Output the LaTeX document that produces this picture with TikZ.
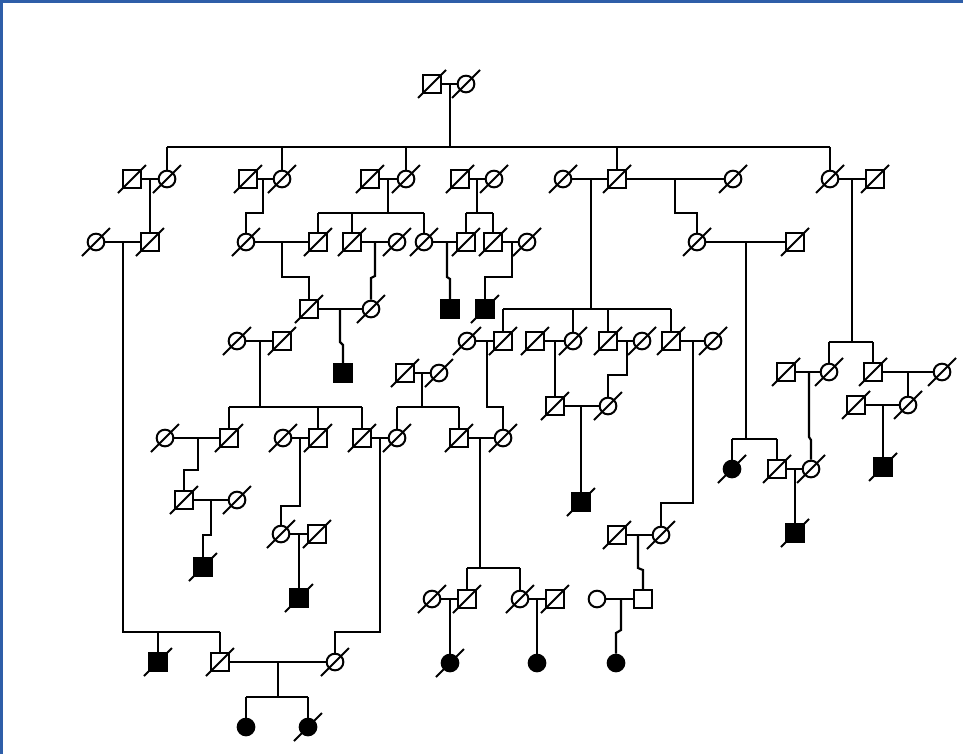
\documentclass[tikz,border=0pt]{standalone}
\usetikzlibrary{calc}
\definecolor{frameblue}{RGB}{46,94,168}
\begin{document}
\begin{tikzpicture}[x=0.75pt,y=-0.75pt,
  every path/.style={line width=1.6pt},
  male/.style={draw, rectangle, minimum size=13pt, inner sep=0pt, line width=1.5pt, fill=white},
  fem/.style={draw, circle, minimum size=12.5pt, inner sep=0pt, line width=1.5pt, fill=white},
  aff/.style={fill=black},
  slashln/.style={line width=1.5pt}]
\useasboundingbox (0,0) rectangle (963,754);
\fill[frameblue] (0,0) rectangle (963,3);
\fill[frameblue] (0,0) rectangle (3,754);
% ---------- individuals ----------
% Gen I
\node[male] (I1) at (432,84) {};
\node[fem]  (I2) at (466,84) {};
% Gen II
\node[male] (a1) at (132,179) {};
\node[fem]  (a2) at (167,179) {};
\node[male] (b1) at (248,179) {};
\node[fem]  (b2) at (282,179) {};
\node[male] (c1) at (370,179) {};
\node[fem]  (c2) at (406,179) {};
\node[male] (d1) at (460,179) {};
\node[fem]  (d2) at (494,179) {};
\node[fem]  (e1) at (563,179) {};
\node[male] (e2) at (617,179) {};
\node[fem]  (e3) at (733,179) {};
\node[fem]  (g1) at (830,179) {};
\node[male] (g2) at (875,179) {};
% Gen III
\node[fem]  (h1) at (96,242) {};
\node[male] (h2) at (150,242) {};
\node[fem]  (i1) at (246,242) {};
\node[male] (i2) at (318,242) {};
\node[male] (i3) at (352,242) {};
\node[fem]  (i4) at (397,242) {};
\node[fem]  (i5) at (424,242) {};
\node[male] (i6) at (466,242) {};
\node[male] (i7) at (493,242) {};
\node[fem]  (i8) at (527,242) {};
\node[fem]  (j1) at (697,242) {};
\node[male] (j2) at (795,242) {};
% row y=309
\node[male] (k1) at (309,309) {};
\node[fem]  (k2) at (371,309) {};
\node[male,aff] (k3) at (450,309) {};
\node[male,aff] (k4) at (485,309) {};
% row y=341
\node[fem]  (l1) at (237,341) {};
\node[male] (l2) at (282,341) {};
\node[fem]  (n1) at (467,341) {};
\node[male] (n2) at (503,341) {};
\node[male] (n3) at (535,341) {};
\node[fem]  (n4) at (573,341) {};
\node[male] (n5) at (608,341) {};
\node[fem]  (n6) at (642,341) {};
\node[male] (n7) at (671,341) {};
\node[fem]  (n8) at (713,341) {};
% row y=373
\node[male,aff] (m1) at (343,373) {};
\node[male] (o1) at (405,373) {};
\node[fem]  (o2) at (439,373) {};
\node[male] (p1) at (786,372) {};
\node[fem]  (p2) at (829,372) {};
\node[male] (p3) at (873,372) {};
\node[fem]  (p4) at (942,372) {};
% row y=405
\node[male] (q1) at (856,405) {};
\node[fem]  (q2) at (908,405) {};
\node[male] (s1) at (555,406) {};
\node[fem]  (s2) at (608,406) {};
% row y=438
\node[fem]  (u1) at (165,438) {};
\node[male] (u2) at (229,438) {};
\node[fem]  (u3) at (283,438) {};
\node[male] (u4) at (318,438) {};
\node[male] (u5) at (362,438) {};
\node[fem]  (u6) at (397,438) {};
\node[male] (u7) at (459,438) {};
\node[fem]  (u8) at (503,438) {};
% row y=469
\node[fem,aff]  (v1) at (732,469) {};
\node[male] (v2) at (777,469) {};
\node[fem]  (v3) at (811,469) {};
\node[male,aff] (r1) at (883,467) {};
% row y=500
\node[male] (x1) at (184,500) {};
\node[fem]  (x2) at (237,500) {};
\node[male,aff] (t1) at (581,502) {};
% row y=534
\node[fem]  (z1) at (281,534) {};
\node[male] (z2) at (317,534) {};
\node[male] (ab1) at (617,535) {};
\node[fem]  (ab2) at (661,535) {};
\node[male,aff] (w1) at (795,533) {};
% row y=567
\node[male,aff] (y1) at (203,567) {};
% row y=599
\node[male,aff] (aa) at (299,598) {};
\node[fem]  (ad1) at (432,599) {};
\node[male] (ad2) at (467,599) {};
\node[fem]  (ad3) at (520,599) {};
\node[male] (ad4) at (555,599) {};
\node[fem]  (ac1) at (597,599) {};
\node[male] (ac2) at (643,599) {};
% row y=663
\node[fem,aff] (ae1) at (450,663) {};
\node[fem,aff] (ae2) at (537,663) {};
\node[fem,aff] (ae3) at (616,663) {};
\node[male,aff] (af1) at (158,662) {};
\node[male] (af2) at (220,662) {};
\node[fem]  (af3) at (335,662) {};
% row y=727
\node[fem,aff] (ag1) at (246,727) {};
\node[fem,aff] (ag2) at (308,727) {};
% ---------- deceased slashes ----------
\foreach \n in {I1,I2,a1,a2,b1,b2,c1,c2,d1,d2,e1,e2,e3,g1,g2,
  h1,h2,i1,i2,i3,i4,i5,i6,i7,i8,j1,j2,k1,k2,k4,
  l1,l2,n1,n2,n3,n4,n5,n6,n7,n8,o1,o2,p1,p2,p3,p4,q1,q2,s1,s2,
  u1,u2,u3,u4,u5,u6,u7,u8,v1,v2,v3,r1,x1,x2,t1,z1,z2,ab1,ab2,w1,y1,
  aa,ad1,ad2,ad3,ad4,ae1,af1,af2,af3,ag2}
  \draw[slashln] ([shift={(-14,14)}]\n.center) -- ([shift={(14,-14)}]\n.center);
% ---------- marriage lines ----------
\foreach \p/\q in {I1/I2,a1/a2,b1/b2,c1/c2,d1/d2,e1/e2,e2/e3,g1/g2,h1/h2,
  i1/i2,i3/i4,i5/i6,i7/i8,j1/j2,k1/k2,l1/l2,n1/n2,n3/n4,n5/n6,n7/n8,o1/o2,
  p1/p2,p3/p4,q1/q2,s1/s2,u1/u2,u3/u4,u5/u6,u7/u8,v2/v3,x1/x2,z1/z2,
  ab1/ab2,ad1/ad2,ad3/ad4,ac1/ac2,af2/af3}
  \draw (\p) -- (\q);
% ---------- descent coordinates ----------
\coordinate (mI) at (450,84);   \coordinate (sI) at (450,147);
\coordinate (ma) at (150,179);
\coordinate (mb) at (263,179);
\coordinate (mc) at (388,179);  \coordinate (sc) at (388,213);
\coordinate (md) at (477,179);  \coordinate (sd) at (477,213);
\coordinate (me) at (591,179);  \coordinate (se) at (591,309);
\coordinate (me2) at (675,179);
\coordinate (mg) at (852,179);  \coordinate (sg) at (852,342);
\coordinate (mh) at (123,242);  \coordinate (sh) at (123,632);
\coordinate (mi12) at (282,242);
\coordinate (mi34) at (375,242);
\coordinate (mi56) at (447,242);
\coordinate (mi78) at (512,242);
\coordinate (mj) at (746,242);  \coordinate (sj) at (746,439);
\coordinate (mk) at (340,309);
\coordinate (ml) at (260,341);  \coordinate (sl1) at (260,407);
\coordinate (mn12) at (487,341);
\coordinate (mn34) at (555,341);
\coordinate (mn56) at (627,341);
\coordinate (mn78) at (693,341);
\coordinate (mo) at (422,373);  \coordinate (so) at (422,407);
\coordinate (mp12) at (809,372);
\coordinate (mp34) at (908,372);
\coordinate (mq) at (883,405);
\coordinate (ms) at (581,406);
\coordinate (mu12) at (198,438);
\coordinate (mu34) at (300,438);
\coordinate (mu56) at (380,438);
\coordinate (mu78) at (480,438); \coordinate (su) at (480,568);
\coordinate (mv) at (795,469);
\coordinate (mx) at (211,500);
\coordinate (mz) at (299,534);
\coordinate (mab) at (638,535);
\coordinate (mad12) at (450,599);
\coordinate (mad34) at (537,599);
\coordinate (mac) at (621,599);
\coordinate (maf) at (278,662); \coordinate (saf) at (278,697);
% ---------- descent lines ----------
\draw (mI) -- (sI);
\draw (a2|-sI) -- (g1|-sI);
\foreach \c in {a2,b2,c2,e2,g1} \draw (\c|-sI) -- (\c);
\draw (ma) -- (h2);
\draw (mb) -- (263,213) -- (246,213) -- (i1);
\draw (mc) -- (sc);
\draw (i2|-sc) -- (i5|-sc);
\foreach \c in {i2,i3,i5} \draw (\c|-sc) -- (\c);
\draw (md) -- (sd);
\draw (i6|-sd) -- (i7|-sd);
\foreach \c in {i6,i7} \draw (\c|-sd) -- (\c);
\draw (me) -- (se);
\draw (n2|-se) -- (n7|-se);
\foreach \c in {n2,n4,n5,n7} \draw (\c|-se) -- (\c);
\draw (me2) -- (675,213) -- (697,213) -- (j1);
\draw (mg) -- (sg);
\draw (p2|-sg) -- (p3|-sg);
\foreach \c in {p2,p3} \draw (\c|-sg) -- (\c);
\draw (mh) -- (sh) -- (af2|-sh);
\foreach \c in {af1,af2} \draw (\c|-sh) -- (\c);
\draw (mi12) -- (282,277) -- (309,277) -- (k1);
\draw (mi34) -- (375,276) -- (371,278) -- (k2);
\draw (mi56) -- (447,277) -- (450,279) -- (k3);
\draw (mi78) -- (512,277) -- (485,277) -- (k4);
\draw (mj) -- (sj);
\draw (v1|-sj) -- (v2|-sj);
\foreach \c in {v1,v2} \draw (\c|-sj) -- (\c);
\draw (mk) -- (340,342) -- (343,345) -- (m1);
\draw (ml) -- (sl1);
\draw (u2|-sl1) -- (u5|-sl1);
\foreach \c in {u2,u4,u5} \draw (\c|-sl1) -- (\c);
\draw (mn12) -- (487,407) -- (503,407) -- (u8);
\draw (mn34) -- (s1);
\draw (mn56) -- (627,375) -- (608,375) -- (s2);
\draw (mn78) -- (693,503) -- (661,503) -- (ab2);
\draw (mo) -- (so);
\draw (u6|-so) -- (u7|-so);
\foreach \c in {u6,u7} \draw (\c|-so) -- (\c);
\draw (mp12) -- (809,437) -- (811,440) -- (v3);
\draw (mp34) -- (q2);
\draw (mq) -- (r1);
\draw (ms) -- (t1);
\draw (mu12) -- (198,470) -- (184,470) -- (x1);
\draw (mu34) -- (300,506) -- (281,506) -- (z1);
\draw (mu56) -- (380,632) -- (335,632) -- (af3);
\draw (mu78) -- (su);
\draw (ad2|-su) -- (ad3|-su);
\foreach \c in {ad2,ad3} \draw (\c|-su) -- (\c);
\draw (mv) -- (w1);
\draw (mx) -- (211,535) -- (203,535) -- (y1);
\draw (mz) -- (aa);
\draw (mab) -- (638,568) -- (643,570) -- (ac2);
\draw (mad12) -- (ae1);
\draw (mad34) -- (ae2);
\draw (mac) -- (621,630) -- (616,633) -- (ae3);
\draw (maf) -- (saf);
\draw (ag1|-saf) -- (ag2|-saf);
\foreach \c in {ag1,ag2} \draw (\c|-saf) -- (\c);
\end{tikzpicture}
\end{document}
